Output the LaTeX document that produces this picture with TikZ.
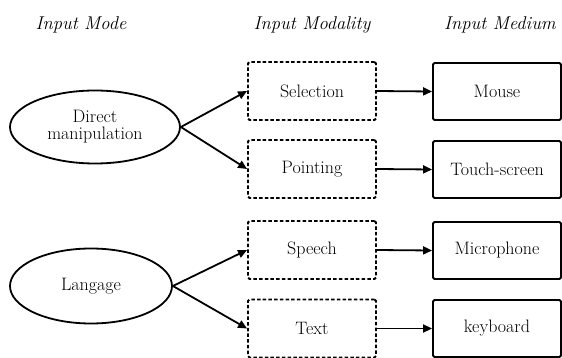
\documentclass[tikz,border=0pt]{standalone}
\usetikzlibrary{shapes.geometric,arrows.meta}
\begin{document}
\begin{tikzpicture}[x=1pt,y=-1pt,
  every node/.style={font=\fontsize{18}{20}\selectfont},
  header/.style={font=\fontsize{18.5}{21}\selectfont\itshape},
  modebox/.style={ellipse,draw,line width=1.8pt,inner sep=0pt,align=center},
  modalitybox/.style={draw,line width=1.9pt,dash pattern=on 3.5pt off 2.2pt,
    rounded corners=1.5pt,minimum width=128pt,minimum height=58pt,inner sep=0pt},
  mediumbox/.style={draw,line width=1.9pt,rounded corners=1.5pt,
    minimum width=128pt,minimum height=57pt,inner sep=0pt},
  link/.style={line width=1.8pt,-{Triangle[length=9pt,width=8pt]}}]
  \useasboundingbox (0,0) rectangle (562,358);

  % column headers
  \node[header] (h1) at (81,25) {Input Mode};
  \node[header] (h2) at (312,25) {Input Modality};
  \node[header] (h3) at (500,25) {Input Medium};

  % input modes
  \node[modebox,minimum width=170pt,minimum height=73pt] (dm) at (95,127)
    {Direct\\[-3pt]manipulation};
  \node[modebox,minimum width=162pt,minimum height=75pt] (lg) at (91,286) {Langage};

  % input modalities
  \node[modalitybox] (sel) at (312,91) {Selection};
  \node[modalitybox] (pt) at (312,169) {Pointing};
  \node[modalitybox] (sp) at (312,250) {Speech};
  \node[modalitybox] (tx) at (312,328.5) {Text};

  % input media
  \node[mediumbox] (ms) at (497,91.5) {Mouse};
  \node[mediumbox] (ts) at (497,169.5) {Touch-screen};
  \node[mediumbox] (mc) at (497,250.5) {Microphone};
  \node[mediumbox] (kb) at (497,328.5) {keyboard};

  % connectors
  \draw[link] (dm.east) -- (sel.west);
  \draw[link] (dm.east) -- (pt.west);
  \draw[link] (lg.east) -- (sp.west);
  \draw[link] (lg.east) -- (tx.west);
  \draw[link] (sel.east) -- (ms.west);
  \draw[link] (pt.east) -- (ts.west);
  \draw[link] (sp.east) -- (mc.west);
  \draw[link] (tx.east) -- (kb.west);
\end{tikzpicture}
\end{document}
